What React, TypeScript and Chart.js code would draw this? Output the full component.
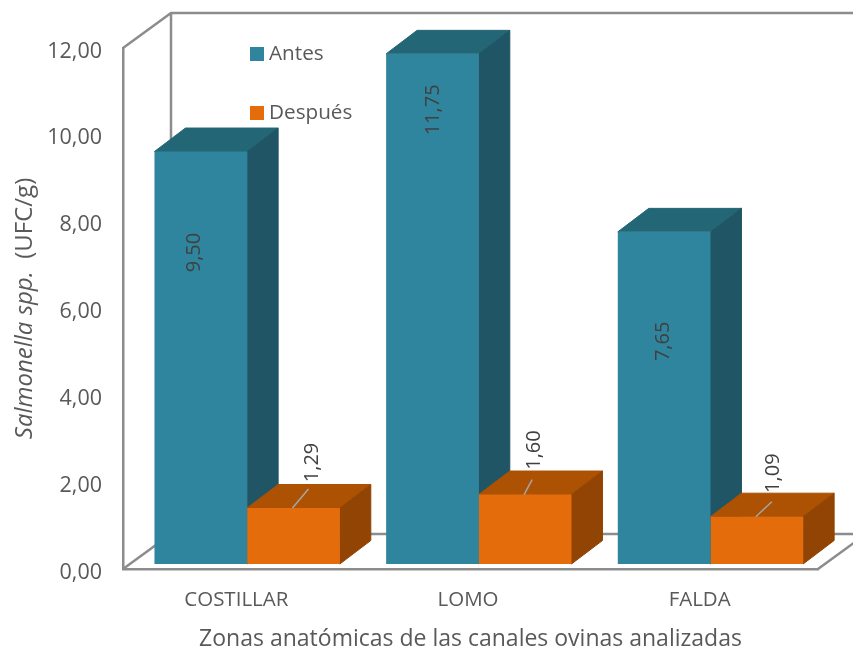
import React, { useEffect, useRef } from "react";
import { Chart, registerables } from "chart.js";

Chart.register(...registerables);

const categories = ["COSTILLAR", "LOMO", "FALDA"];
const antes = [9.5, 11.75, 7.65];
const despues = [1.29, 1.6, 1.09];
const seriesNames = ["Antes", "Después"];
const yTicksMax = 12;
const yStep = 2;
const yTitleItalic = "Salmonella spp.";
const yTitleNormal = "  (UFC/g)";
const xTitle = "Zonas anatómicas de las canales ovinas analizadas";

const FONT = '"Open Sans", sans-serif';
const TEXT = "#595959";
const LABEL = "#404040";
const FRAME = "#8c8c8c";

// projection of the 3D look
const WALL_DX = 48;
const WALL_DY = -35;
const BAR_DX = 31;
const BAR_DY = -23.5;
const SHIFT_X = 8.3;
const SHIFT_Y = -5;

const faces = [
  { front: "#2F859D", top: "#236676", side: "#1F5564" },
  { front: "#E46C0A", top: "#AD5103", side: "#914403" },
];

const fmt = (v: number) => v.toFixed(2).replace(".", ",");

function poly(ctx: CanvasRenderingContext2D, pts: number[][], fill: string, stroke?: string) {
  ctx.beginPath();
  pts.forEach((p, i) => (i ? ctx.lineTo(p[0], p[1]) : ctx.moveTo(p[0], p[1])));
  ctx.closePath();
  ctx.fillStyle = fill;
  ctx.fill();
  if (stroke) {
    ctx.strokeStyle = stroke;
    ctx.lineWidth = 1;
    ctx.stroke();
  }
}

// label placement relative to the bar's front-top centre
const bigLabelOffset = [[-6.5, 101], [0.5, 56], [-1, 109.5]];
const smallLabelOffset = [[19, -45.5], [9, -44.5], [16.5, -43.5]];
const leaderEnd = [[16, -19], [8, -15], [16, -15]];

const plugin3d = {
  id: "bars3d",
  beforeDatasetsDraw(chart: any) {
    const { ctx, chartArea: a } = chart;
    ctx.save();
    ctx.strokeStyle = FRAME;
    ctx.lineWidth = 2.5;
    ctx.lineJoin = "miter";
    ctx.beginPath();
    ctx.moveTo(a.left, a.top);
    ctx.lineTo(a.left + WALL_DX, a.top + WALL_DY);
    ctx.lineTo(a.right + WALL_DX, a.top + WALL_DY);
    ctx.moveTo(a.left + WALL_DX, a.top + WALL_DY);
    ctx.lineTo(a.left + WALL_DX, a.bottom + WALL_DY);
    ctx.lineTo(a.right + WALL_DX, a.bottom + WALL_DY);
    ctx.moveTo(a.left, a.bottom);
    ctx.lineTo(a.left + WALL_DX, a.bottom + WALL_DY);
    ctx.moveTo(a.right, a.bottom);
    ctx.lineTo(a.right + WALL_DX, a.bottom + WALL_DY);
    ctx.stroke();

    [0, 1].forEach((d) => {
      const f = faces[d];
      chart.getDatasetMeta(d).data.forEach((bar: any) => {
        const l = bar.x - bar.width / 2 + SHIFT_X;
        const r = bar.x + bar.width / 2 + SHIFT_X;
        const t = bar.y + SHIFT_Y;
        const b = bar.base + SHIFT_Y;
        poly(ctx, [[l, t], [r, t], [r + BAR_DX, t + BAR_DY], [l + BAR_DX, t + BAR_DY]], f.top, f.top);
        poly(ctx, [[r, t], [r + BAR_DX, t + BAR_DY], [r + BAR_DX, b + BAR_DY], [r, b]], f.side, f.side);
      });
    });
    ctx.restore();
    ctx.save();
    ctx.translate(SHIFT_X, SHIFT_Y);
  },
  afterDatasetsDraw(chart: any) {
    const { ctx } = chart;
    ctx.restore();

    ctx.save();
    ctx.fillStyle = LABEL;
    ctx.textAlign = "center";
    ctx.textBaseline = "middle";
    ctx.font = `20px ${FONT}`;

    chart.getDatasetMeta(0).data.forEach((bar: any, i: number) => {
      ctx.save();
      ctx.translate(bar.x + SHIFT_X + bigLabelOffset[i][0], bar.y + SHIFT_Y + bigLabelOffset[i][1]);
      ctx.rotate(-Math.PI / 2);
      ctx.fillText(fmt(antes[i]), 0, 0);
      ctx.restore();
    });

    chart.getDatasetMeta(1).data.forEach((bar: any, i: number) => {
      const x = bar.x + SHIFT_X;
      const y = bar.y + SHIFT_Y;
      ctx.strokeStyle = "#A6A6A6";
      ctx.lineWidth = 1.5;
      ctx.beginPath();
      ctx.moveTo(x - 1, y);
      ctx.lineTo(x - 1 + leaderEnd[i][0], y + leaderEnd[i][1]);
      ctx.stroke();
      ctx.save();
      ctx.translate(x + smallLabelOffset[i][0], y + smallLabelOffset[i][1]);
      ctx.rotate(-Math.PI / 2);
      ctx.fillText(fmt(despues[i]), 0, 0);
      ctx.restore();
    });
    ctx.restore();

    // legend
    ctx.save();
    ctx.textAlign = "left";
    ctx.textBaseline = "middle";
    ctx.font = `20.7px ${FONT}`;
    chart.data.datasets.forEach((ds: any, i: number) => {
      const y = 47 + i * 59;
      ctx.fillStyle = faces[i].front;
      ctx.fillRect(250, y, 14, 14);
      ctx.fillStyle = TEXT;
      ctx.fillText(ds.label, 269, y + 7);
    });
    ctx.restore();

    // y axis title with a mixed italic / upright run
    ctx.save();
    ctx.translate(25, (chart.chartArea.top + chart.chartArea.bottom) / 2);
    ctx.rotate(-Math.PI / 2);
    ctx.textBaseline = "middle";
    ctx.textAlign = "left";
    ctx.fillStyle = TEXT;
    const it = `italic 24px ${FONT}`;
    const up = `24px ${FONT}`;
    ctx.font = it;
    const w1 = ctx.measureText(yTitleItalic).width;
    ctx.font = up;
    const w2 = ctx.measureText(yTitleNormal).width;
    const start = -(w1 + w2) / 2;
    ctx.font = it;
    ctx.fillText(yTitleItalic, start, 0);
    ctx.font = up;
    ctx.fillText(yTitleNormal, start + w1, 0);
    ctx.restore();
  },
};

export default function App() {
  const ref = useRef<HTMLCanvasElement>(null);

  useEffect(() => {
    const chart = new Chart(ref.current as HTMLCanvasElement, {
      type: "bar",
      data: {
        labels: categories,
        datasets: [
          {
            label: seriesNames[0],
            data: antes,
            backgroundColor: faces[0].front,
            borderWidth: 0,
            clip: false,
          },
          {
            label: seriesNames[1],
            data: despues,
            backgroundColor: faces[1].front,
            borderWidth: 0,
            clip: false,
          },
        ],
      },
      options: {
        animation: false,
        responsive: false,
        layout: { padding: { top: 48, right: 35, left: 0, bottom: 0 } },
        datasets: { bar: { barPercentage: 1, categoryPercentage: 0.8 } },
        plugins: {
          legend: { display: false },
          tooltip: { enabled: false },
        },
        scales: {
          x: {
            afterFit: (s: any) => {
              s.height = 81;
            },
            grid: { display: false, drawTicks: false },
            border: { display: true, color: FRAME, width: 2.5 },
            ticks: {
              padding: 19,
              labelOffset: -2.5,
              color: TEXT,
              font: { family: FONT, size: 20.5 },
              maxRotation: 0,
            },
            title: {
              display: true,
              text: xTitle,
              color: TEXT,
              font: { family: FONT, size: 23 },
              padding: { top: 0, bottom: -3 },
            },
          },
          y: {
            min: 0,
            max: yTicksMax,
            afterFit: (s: any) => {
              s.width = 123;
            },
            grid: { display: false, drawTicks: false },
            border: { display: true, color: FRAME, width: 2.5 },
            ticks: {
              stepSize: yStep,
              padding: 21,
              labelOffset: 3.5,
              color: TEXT,
              font: { family: FONT, size: 21.5 },
              callback: (v: any) => fmt(Number(v)),
            },
          },
        },
      } as any,
      plugins: [plugin3d as any],
    });
    return () => chart.destroy();
  }, []);

  return (
    <div style={{ position: "absolute", left: 0, top: 0, width: 853, height: 650, background: "#fff" }}>
      <canvas ref={ref} width={853} height={650} style={{ display: "block" }} />
    </div>
  );
}
